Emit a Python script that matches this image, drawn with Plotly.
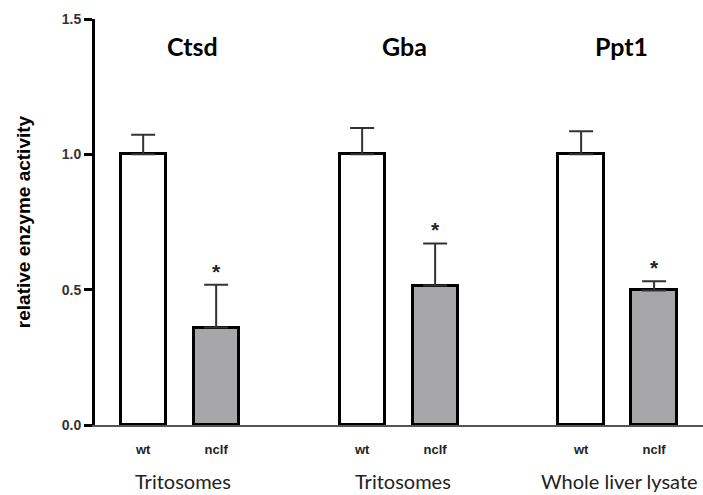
import plotly.graph_objects as go

genes = ["Ctsd", "Gba", "Ppt1"]
sources = ["Tritosomes", "Tritosomes", "Whole liver lysate"]
genotypes = ["wt", "nclf"]
wt_mean = [1.0, 1.0, 1.0]
wt_err = [0.072, 0.097, 0.085]
nclf_mean = [0.36, 0.515, 0.497]
nclf_err = [0.158, 0.156, 0.034]
significant = ["*", "*", "*"]

# x positions: each gene group occupies 3 slots (wt, nclf, gap)
wt_x = [3 * i for i in range(len(genes))]
nclf_x = [3 * i + 1 for i in range(len(genes))]

fig = go.Figure()
fig.add_trace(go.Bar(
    x=wt_x, y=wt_mean, width=0.62,
    marker=dict(color="white", line=dict(color="black", width=3)),
    error_y=dict(type="data", array=wt_err, arrayminus=[0] * 3, symmetric=False,
                 color="#333333", thickness=2, width=12),
    showlegend=False,
))
fig.add_trace(go.Bar(
    x=nclf_x, y=nclf_mean, width=0.62,
    marker=dict(color="#a7a7a9", line=dict(color="black", width=3)),
    error_y=dict(type="data", array=nclf_err, arrayminus=[0] * 3, symmetric=False,
                 color="#333333", thickness=2, width=12),
    showlegend=False,
))

title_dx = [0.67, 0.58, 0.55]
source_dx = [0.55, 0.56, 0.53]
annotations = []
for i, g in enumerate(genes):
    # gene title
    annotations.append(dict(x=3 * i + title_dx[i], y=1.40, xref="x", yref="y",
                            text="<b>%s</b>" % g, showarrow=False, yanchor="middle",
                            font=dict(family="Lato, Open Sans, sans-serif", size=25, color="black")))
    # significance
    annotations.append(dict(x=nclf_x[i], y=nclf_mean[i] + nclf_err[i] + 0.05, xref="x", yref="y",
                            text="<b>%s</b>" % significant[i], showarrow=False,
                            font=dict(family="Liberation Sans, Arial", size=21, color="#222222")))
    # sample source
    annotations.append(dict(x=3 * i + source_dx[i], y=-70 / 406, xref="x", yref="paper",
                            text=sources[i], showarrow=False, yanchor="bottom",
                            font=dict(family="Lato, Open Sans, sans-serif", size=20, color="#222222")))

tick_vals = []
tick_text = []
for i in range(len(genes)):
    tick_vals += [wt_x[i], nclf_x[i]]
    tick_text += ["<b>%s</b>" % genotypes[0], "<b>%s</b>" % genotypes[1]]

fig.update_layout(
    width=703, height=495,
    margin=dict(l=95, r=0, t=19, b=70),
    plot_bgcolor="white", paper_bgcolor="white",
    bargap=0,
    annotations=annotations,
    xaxis=dict(range=[-0.66, 7.67], tickvals=tick_vals, ticktext=tick_text,
               showline=True, linecolor="#555555", linewidth=1.5,
               ticks="", showgrid=False, zeroline=False, ticklabelstandoff=12,
               tickfont=dict(family="Liberation Sans, Arial", size=13, color="#222222")),
    yaxis=dict(range=[0, 1.5], tickvals=[0, 0.5, 1.0, 1.5], ticktext=["0.0", "0.5", "1.0", "1.5"],
               showline=True, linecolor="black", linewidth=3,
               ticks="outside", ticklen=8, tickwidth=3, tickcolor="black",
               showgrid=False, zeroline=False,
               tickfont=dict(family="Liberation Sans, Arial", size=14, color="#333333", weight="bold"),
               title=dict(text="<b>relative enzyme activity</b>", standoff=27,
                          font=dict(family="Liberation Sans, Arial", size=19, color="black"))),
)

fig.write_html("out.html")
